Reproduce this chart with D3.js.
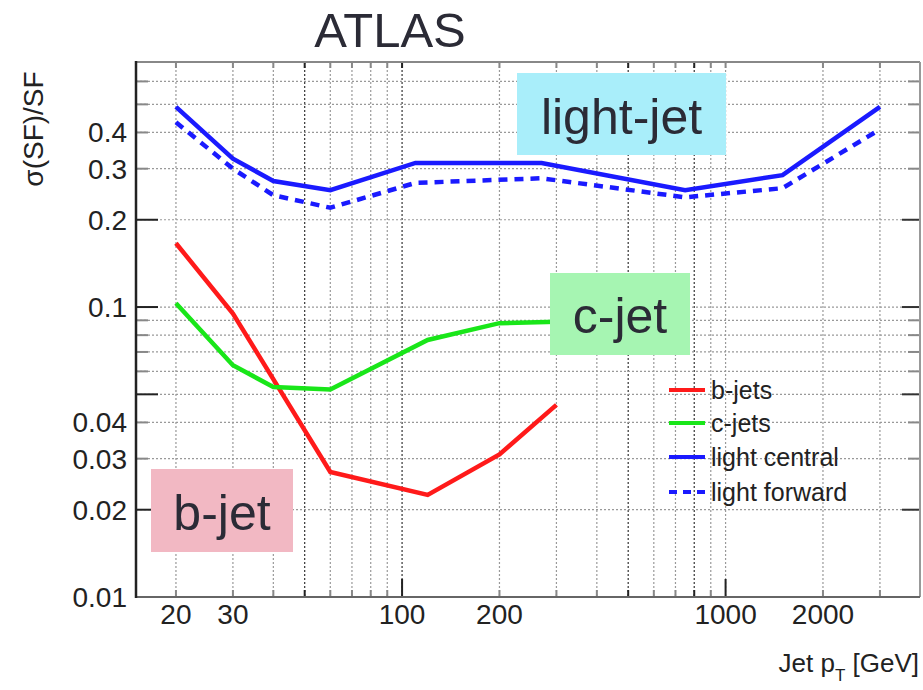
<!DOCTYPE html>
<html>
<head>
<meta charset="utf-8">
<script src="https://cdn.jsdelivr.net/npm/d3@7"></script>
<style>
  body { margin: 0; background: #fff; }
  svg { font-family: "Liberation Sans", Arial, sans-serif; }
</style>
</head>
<body>
<div id="chart"></div>
<script>
// jet pT points (GeV) and relative SF uncertainty
const ptB = [20, 30, 60, 120, 200, 300];
const bJets = [0.166, 0.095, 0.027, 0.0225, 0.031, 0.046];
const ptC = [20, 30, 40, 60, 120, 200, 300];
const cJets = [0.103, 0.063, 0.053, 0.052, 0.077, 0.088, 0.089];
const ptLight = [20, 30, 40, 60, 110, 270, 750, 1500, 3000];
const lightCentral = [0.49, 0.325, 0.272, 0.253, 0.314, 0.314, 0.253, 0.285, 0.49];
const lightForward = [0.434, 0.30, 0.243, 0.22, 0.268, 0.278, 0.239, 0.257, 0.41];

const xGrid = [20, 30, 40, 50, 60, 70, 80, 90, 100, 200, 300, 400, 500, 600, 700, 800, 900, 1000, 2000, 3000];
const xLabels = [20, 30, 100, 200, 1000, 2000];
const yGrid = [0.02, 0.03, 0.04, 0.05, 0.06, 0.07, 0.08, 0.09, 0.1, 0.2, 0.3, 0.4, 0.5, 0.6];
const yLabels = [0.01, 0.02, 0.03, 0.04, 0.1, 0.2, 0.3, 0.4];
const yMajor = [0.02, 0.05, 0.1, 0.2];

const series = [
  { name: "b-jets", x: ptB, y: bJets, color: "#ff1a1a", dash: null },
  { name: "c-jets", x: ptC, y: cJets, color: "#19e619", dash: null },
  { name: "light central", x: ptLight, y: lightCentral, color: "#1a1aff", dash: null },
  { name: "light forward", x: ptLight, y: lightForward, color: "#1a1aff", dash: "9,7" }
];

const width = 923, height = 690;
const plotL = 136, plotR = 920, plotT = 62, plotB = 597;

const svg = d3.select("#chart").append("svg")
  .attr("width", width).attr("height", height);

const x = d3.scaleLog().domain([15.05, 3990]).range([plotL, plotR]);
const y = d3.scaleLog().domain([0.01, 0.7]).range([plotB, plotT]);

const darkX = d => d === 50 || d === 100 || d === 500 || d === 800;

// grid
const grid = svg.append("g");
grid.selectAll(".vx").data(xGrid).enter().append("line")
  .attr("x1", d => x(d)).attr("x2", d => x(d))
  .attr("y1", plotT).attr("y2", plotB)
  .attr("stroke", d => darkX(d) ? "#333" : "#999")
  .attr("stroke-width", 1.2)
  .attr("stroke-dasharray", "2,2");
grid.selectAll(".hy").data(yGrid).enter().append("line")
  .attr("x1", plotL).attr("x2", plotR)
  .attr("y1", d => y(d)).attr("y2", d => y(d))
  .attr("stroke", "#999")
  .attr("stroke-width", 1.2)
  .attr("stroke-dasharray", "2,2");

// ticks along frame
const ticks = svg.append("g");
ticks.selectAll(".bt").data(xGrid).enter().append("line")
  .attr("x1", d => x(d)).attr("x2", d => x(d))
  .attr("y1", plotB).attr("y2", d => (d === 100 || d === 1000) ? plotB - 18 : plotB - 7)
  .attr("stroke", d => (darkX(d) || d === 1000) ? "#222" : "#888")
  .attr("stroke-width", 2);
ticks.selectAll(".tt").data(xGrid).enter().append("line")
  .attr("x1", d => x(d)).attr("x2", d => x(d))
  .attr("y1", plotT).attr("y2", plotT + 6)
  .attr("stroke", d => darkX(d) ? "#222" : "#888")
  .attr("stroke-width", 2);
ticks.selectAll(".lt").data(yGrid).enter().append("line")
  .attr("x1", plotL).attr("x2", d => yMajor.includes(d) ? plotL + 22 : plotL + 12)
  .attr("y1", d => y(d)).attr("y2", d => y(d))
  .attr("stroke", d => yMajor.includes(d) ? "#222" : "#888")
  .attr("stroke-width", 2);
ticks.selectAll(".rt").data(yGrid).enter().append("line")
  .attr("x1", plotR).attr("x2", d => yMajor.includes(d) ? plotR - 18 : plotR - 12)
  .attr("y1", d => y(d)).attr("y2", d => y(d))
  .attr("stroke", d => yMajor.includes(d) ? "#333" : "#888")
  .attr("stroke-width", 2);

// frame
svg.append("line").attr("x1", plotL).attr("x2", plotR).attr("y1", plotT).attr("y2", plotT)
  .attr("stroke", "#888").attr("stroke-width", 2);
svg.append("line").attr("x1", plotR).attr("x2", plotR).attr("y1", plotT).attr("y2", plotB)
  .attr("stroke", "#999").attr("stroke-width", 2);
svg.append("line").attr("x1", plotL).attr("x2", plotR).attr("y1", plotB).attr("y2", plotB)
  .attr("stroke", "#666").attr("stroke-width", 2);
svg.append("line").attr("x1", plotL).attr("x2", plotL).attr("y1", plotT - 1).attr("y2", plotB + 1)
  .attr("stroke", "#222").attr("stroke-width", 2.5);

// tick labels
svg.append("g").selectAll("text").data(xLabels).enter().append("text")
  .attr("x", d => x(d)).attr("y", 624)
  .attr("text-anchor", "middle")
  .attr("font-size", 28).attr("fill", "#222")
  .text(d => d);
svg.append("g").selectAll("text").data(yLabels).enter().append("text")
  .attr("x", 127).attr("y", d => y(d) + 10)
  .attr("text-anchor", "end")
  .attr("font-size", 28).attr("fill", "#222")
  .text(d => d);

// axis titles
svg.append("text")
  .attr("transform", "translate(43,129) rotate(-90)")
  .attr("text-anchor", "middle")
  .attr("font-size", 28).attr("fill", "#222")
  .text("σ(SF)/SF");
const xt = svg.append("text")
  .attr("x", 919).attr("y", 672)
  .attr("text-anchor", "end")
  .attr("font-size", 26).attr("fill", "#222");
xt.append("tspan").text("Jet p");
xt.append("tspan").attr("font-size", 17).attr("dy", 9).text("T");
xt.append("tspan").attr("dy", -9).text(" [GeV]");

// data lines
const line = d3.line()
  .x(d => x(d[0]))
  .y(d => y(d[1]));
svg.append("g").selectAll("path").data(series).enter().append("path")
  .attr("d", s => line(s.x.map((v, i) => [v, s.y[i]])))
  .attr("fill", "none")
  .attr("stroke", s => s.color)
  .attr("stroke-width", 4.5)
  .attr("stroke-dasharray", s => s.dash);

// legend
const legend = svg.append("g");
const legY = [390, 423, 457, 492];
series.forEach((s, i) => {
  legend.append("line")
    .attr("x1", 669).attr("x2", 705)
    .attr("y1", legY[i]).attr("y2", legY[i])
    .attr("stroke", s.color).attr("stroke-width", 4)
    .attr("stroke-dasharray", s.dash ? "8,6" : null);
  legend.append("text")
    .attr("x", 711).attr("y", legY[i] + 9)
    .attr("font-size", 25).attr("fill", "#222")
    .text(s.name);
});

// title
svg.append("text")
  .attr("x", 390).attr("y", 47)
  .attr("text-anchor", "middle")
  .attr("font-size", 49).attr("fill", "#2b2b36")
  .text("ATLAS");

// highlighted labels
const boxes = [
  { text: "light-jet", x0: 517, x1: 726, y0: 73, y1: 155, base: 134, fill: "#a9eefa" },
  { text: "c-jet", x0: 550, x1: 690, y0: 273, y1: 355, base: 333, fill: "#a6f5b2" },
  { text: "b-jet", x0: 151, x1: 293, y0: 469, y1: 552, base: 530, fill: "#f2b8c3" }
];
boxes.forEach(b => {
  svg.append("rect")
    .attr("x", b.x0).attr("y", b.y0)
    .attr("width", b.x1 - b.x0).attr("height", b.y1 - b.y0)
    .attr("fill", b.fill);
  svg.append("text")
    .attr("x", (b.x0 + b.x1) / 2).attr("y", b.base)
    .attr("text-anchor", "middle")
    .attr("font-size", 50).attr("fill", "#2b2b36")
    .text(b.text);
});
</script>
</body>
</html>
